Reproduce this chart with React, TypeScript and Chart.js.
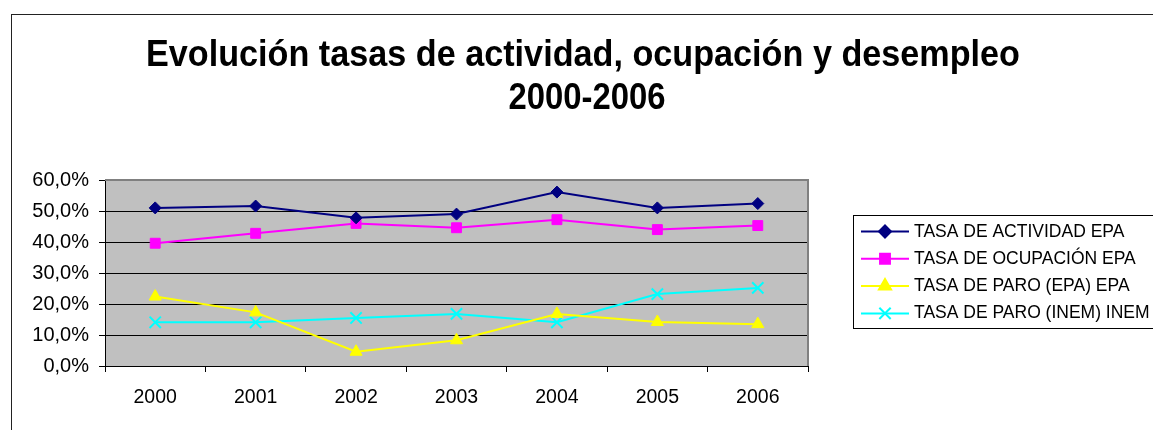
import React, { useEffect, useRef } from 'react';
import { Chart, registerables } from 'chart.js';
import { drawPoint } from 'chart.js/helpers';

Chart.register(...registerables);

const categories = ['2000', '2001', '2002', '2003', '2004', '2005', '2006'];
const tasaActividad = [51.0, 51.6, 47.8, 49.0, 56.1, 51.0, 52.4];
const tasaOcupacion = [39.6, 42.8, 46.0, 44.6, 47.2, 44.0, 45.3];
const tasaParoEpa = [22.4, 17.3, 4.6, 8.3, 16.8, 14.2, 13.5];
const tasaParoInem = [14.1, 14.1, 15.5, 16.8, 14.1, 23.2, 25.2];
const seriesLabels = [
  'TASA DE ACTIVIDAD EPA',
  'TASA DE OCUPACIÓN EPA',
  'TASA DE PARO (EPA) EPA',
  'TASA DE PARO (INEM) INEM',
];
const seriesColors = ['#000080', '#FF00FF', '#FFFF00', '#00FFFF'];
const seriesStyles = ['rectRot', 'rect', 'triangle', 'crossRot'];
const seriesRadius = [6, 7, 7, 8];
const yMin = 0;
const yMax = 60;
const yStep = 10;
const titleLines = ['Evolución tasas de actividad, ocupación y desempleo', '2000-2006'];

const FONT = '"Liberation Sans", Arial, Helvetica, sans-serif';

const decorPlugin = {
  id: 'decor',
  beforeDraw(chart: any) {
    const { ctx, chartArea, width, height } = chart;
    ctx.save();
    ctx.fillStyle = '#ffffff';
    ctx.fillRect(0, 0, width, height);
    ctx.strokeStyle = '#222222';
    ctx.lineWidth = 1;
    ctx.strokeRect(11.5, 14.5, width + 100, height + 100);
    ctx.fillStyle = '#C0C0C0';
    ctx.fillRect(chartArea.left, chartArea.top, chartArea.right - chartArea.left, chartArea.bottom - chartArea.top);
    ctx.restore();
  },
  beforeDatasetsDraw(chart: any) {
    const { ctx, chartArea } = chart;
    ctx.save();
    ctx.strokeStyle = '#808080';
    ctx.lineWidth = 2;
    ctx.beginPath();
    ctx.moveTo(chartArea.left, chartArea.top);
    ctx.lineTo(chartArea.right, chartArea.top);
    ctx.lineTo(chartArea.right, chartArea.bottom);
    ctx.stroke();
    ctx.restore();
  },
  afterDraw(chart: any) {
    const { ctx } = chart;
    ctx.save();
    // title
    ctx.fillStyle = '#000';
    ctx.textAlign = 'center';
    ctx.textBaseline = 'alphabetic';
    const titleSpecs = [
      { cx: 583, base: 66, w: 874 },
      { cx: 587, base: 109, w: 157 },
    ];
    titleLines.forEach((line, i) => {
      const s = titleSpecs[i];
      ctx.font = `bold 36px ${FONT}`;
      const mw = ctx.measureText(line).width;
      ctx.save();
      ctx.translate(s.cx, s.base);
      ctx.scale(s.w / mw, 1);
      ctx.fillText(line, 0, 0);
      ctx.restore();
    });

    // legend
    const bx = 853.5;
    const by = 215.5;
    ctx.fillStyle = '#ffffff';
    ctx.fillRect(bx, by, 400, 113);
    ctx.strokeStyle = '#000';
    ctx.lineWidth = 1;
    ctx.strokeRect(bx, by, 400, 113);
    ctx.font = `17.5px ${FONT}`;
    ctx.textAlign = 'left';
    chart.data.datasets.forEach((ds: any, i: number) => {
      const base = 236.5 + i * 27.3;
      const my = base - 5;
      ctx.strokeStyle = ds.borderColor;
      ctx.lineWidth = 2;
      ctx.beginPath();
      ctx.moveTo(861, my);
      ctx.lineTo(909, my);
      ctx.stroke();
      ctx.fillStyle = ds.pointBackgroundColor;
      ctx.strokeStyle = ds.pointBorderColor;
      drawPoint(ctx, { pointStyle: ds.pointStyle, radius: ds.pointRadius, rotation: 0, borderWidth: ds.pointBorderWidth }, 885, my);
      ctx.fillStyle = '#000';
      ctx.fillText(ds.label, 914, base);
    });
    ctx.restore();
  },
};

export default function App() {
  const ref = useRef<HTMLCanvasElement>(null);
  useEffect(() => {
    document.body.style.margin = '0';
    const series = [tasaActividad, tasaOcupacion, tasaParoEpa, tasaParoInem];
    const chart = new Chart(ref.current!, {
      type: 'line',
      data: {
        labels: categories,
        datasets: series.map((d, i) => ({
          label: seriesLabels[i],
          data: d,
          borderColor: seriesColors[i],
          backgroundColor: seriesColors[i],
          pointBackgroundColor: seriesColors[i],
          pointBorderColor: seriesColors[i],
          pointStyle: seriesStyles[i],
          pointRadius: seriesRadius[i],
          pointBorderWidth: i === 3 ? 2 : 1,
          borderWidth: 2,
          tension: 0,
          fill: false,
        })),
      },
      options: {
        responsive: false,
        animation: false,
        events: [],
        layout: { padding: { left: 0, right: 345, top: 180, bottom: 0 } },
        plugins: { legend: { display: false }, title: { display: false }, tooltip: { enabled: false } },
        scales: {
          x: {
            type: 'category',
            offset: true,
            afterFit: (s: any) => { s.height = 64; },
            grid: { offset: true, drawOnChartArea: false, drawTicks: true, tickLength: 6, color: '#000' },
            border: { display: true, color: '#000', width: 1 },
            ticks: { color: '#000', font: { family: FONT, size: 19.5 }, padding: 14, maxRotation: 0 },
          },
          y: {
            min: yMin,
            max: yMax,
            afterFit: (s: any) => { s.width = 105; },
            grid: { color: '#000', lineWidth: 1, tickLength: 6, drawTicks: true },
            border: { display: true, color: '#000', width: 1 },
            ticks: {
              stepSize: yStep,
              color: '#000',
              padding: 10,
              font: { family: FONT, size: 20 },
              callback: (v: any) => Number(v).toFixed(1).replace('.', ',') + '%',
            },
          },
        },
      },
      plugins: [decorPlugin],
    });
    return () => chart.destroy();
  }, []);
  return <canvas ref={ref} width={1153} height={430} style={{ display: 'block', width: 1153, height: 430 }} />;
}
